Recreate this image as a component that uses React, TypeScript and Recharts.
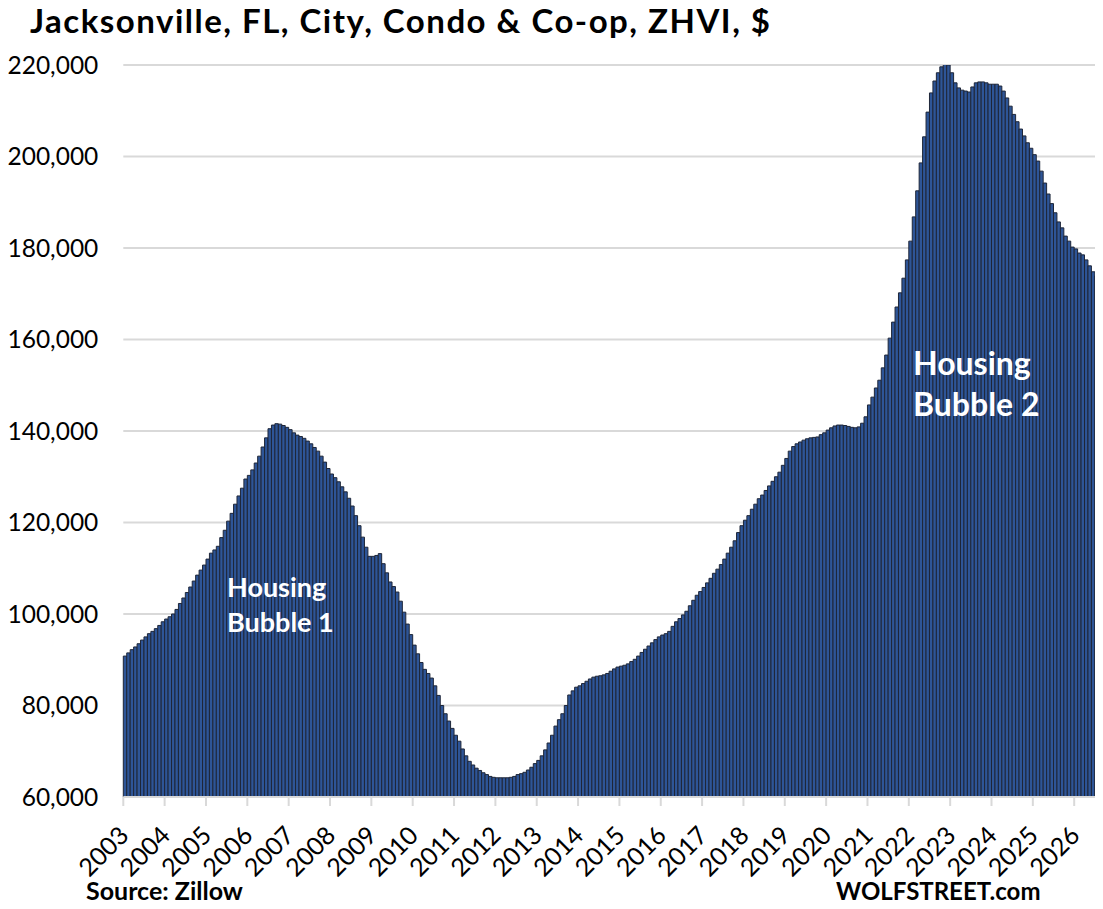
import React from "react";
import { BarChart, Bar, XAxis, YAxis, CartesianGrid } from "recharts";

// Jacksonville condo & co-op ZHVI, monthly, in $ thousands
const years = [
  2003, 2004, 2005, 2006, 2007, 2008, 2009, 2010, 2011, 2012, 2013, 2014,
  2015, 2016, 2017, 2018, 2019, 2020, 2021, 2022, 2023, 2024, 2025, 2026,
];
const y2003 = [90.8, 91.5, 92.2, 92.8, 93.5, 94.3, 95.0, 95.7, 96.2, 96.8, 97.5, 98.3];
const y2004 = [98.9, 99.4, 100.0, 101.0, 102.3, 103.5, 104.7, 105.9, 107.2, 108.5, 109.6, 110.7];
const y2005 = [112.0, 113.3, 114.0, 114.8, 116.7, 118.3, 120.3, 122.0, 124.0, 125.8, 127.5, 129.5];
const y2006 = [130.3, 131.5, 133.0, 134.5, 136.5, 138.5, 140.5, 141.3, 141.6, 141.5, 141.2, 140.8];
const y2007 = [140.3, 139.6, 139.1, 138.8, 138.4, 137.8, 137.2, 136.4, 135.6, 134.5, 133.2, 131.8];
const y2008 = [130.6, 129.8, 128.9, 127.8, 126.7, 125.3, 123.6, 121.5, 119.3, 116.8, 114.6, 112.6];
const y2009 = [112.6, 112.8, 113.2, 111.0, 109.0, 107.0, 106.0, 104.8, 102.8, 100.4, 97.8, 95.5];
const y2010 = [93.2, 91.3, 89.4, 87.9, 87.0, 86.0, 84.3, 82.2, 80.0, 78.2, 76.6, 75.0];
const y2011 = [73.5, 72.2, 70.5, 69.0, 67.8, 67.0, 66.3, 65.8, 65.3, 64.9, 64.5, 64.3];
const y2012 = [64.2, 64.2, 64.2, 64.2, 64.3, 64.5, 64.9, 65.1, 65.4, 65.9, 66.5, 67.3];
const y2013 = [68.0, 69.0, 70.3, 71.8, 73.5, 75.5, 76.9, 78.2, 80.0, 82.3, 83.2, 84.0];
const y2014 = [84.3, 84.8, 85.3, 85.8, 86.2, 86.4, 86.5, 86.7, 87.0, 87.5, 88.0, 88.4];
const y2015 = [88.6, 88.8, 89.1, 89.6, 90.1, 90.8, 91.6, 92.3, 93.0, 93.7, 94.4, 95.0];
const y2016 = [95.4, 95.7, 96.2, 97.3, 98.3, 99.0, 99.8, 100.6, 101.8, 103.0, 104.1, 104.9];
const y2017 = [105.8, 106.8, 107.8, 108.9, 109.8, 110.8, 112.0, 113.3, 114.6, 116.0, 117.8, 119.3];
const y2018 = [120.5, 121.5, 122.9, 124.0, 125.2, 126.0, 127.0, 128.0, 129.0, 130.0, 131.0, 132.5];
const y2019 = [134.0, 135.6, 136.6, 137.2, 137.6, 138.0, 138.3, 138.5, 138.6, 138.7, 139.2, 139.6];
const y2020 = [140.2, 140.7, 141.1, 141.3, 141.3, 141.2, 141.0, 140.8, 140.7, 140.9, 141.7, 143.1];
const y2021 = [145.7, 147.4, 149.4, 151.1, 153.8, 156.6, 160.3, 163.8, 167.1, 170.2, 173.4, 177.4];
const y2022 = [181.5, 186.8, 192.5, 198.6, 204.3, 209.7, 213.9, 216.5, 218.3, 219.6, 220.2, 220.0];
const y2023 = [218.3, 216.1, 215.0, 214.5, 214.3, 214.1, 215.2, 216.1, 216.3, 216.3, 216.1, 215.8];
const y2024 = [215.8, 215.8, 215.4, 214.3, 212.8, 211.0, 209.2, 207.6, 206.0, 204.5, 203.0, 201.8];
const y2025 = [200.4, 199.0, 196.8, 194.2, 191.8, 189.7, 187.7, 185.7, 184.4, 182.6, 181.5, 180.2];
const y2026 = [179.8, 178.9, 178.5, 177.4, 176.1, 174.8, 173.9];

const yearValues = [
  y2003, y2004, y2005, y2006, y2007, y2008, y2009, y2010, y2011, y2012, y2013, y2014,
  y2015, y2016, y2017, y2018, y2019, y2020, y2021, y2022, y2023, y2024, y2025, y2026,
];

const yTicks = [60000, 80000, 100000, 120000, 140000, 160000, 180000, 200000, 220000];

const data = years.flatMap((yr, k) =>
  yearValues[k].map((v, m) => ({
    month: `${yr}-${String(m + 1).padStart(2, "0")}`,
    zhvi: v * 1000,
  }))
);

// layout
const W = 1095;
const H = 901;
const MARGIN = { top: 57, right: 4.7, left: 0, bottom: 0 };
const Y_AXIS_W = 115.3;
const X_AXIS_H = 112;
const PLOT_W = W - MARGIN.left - MARGIN.right - Y_AXIS_W;
const AXIS_Y = H - MARGIN.bottom - X_AXIS_H;
const BAND = PLOT_W / data.length;
const FONT = "Lato, 'Open Sans', sans-serif";
const GRID = "#d9d9d9";

function YearTick(props: any) {
  const { x, payload } = props;
  const left = x - BAND / 2;
  const ax = left + 7;
  const ay = AXIS_Y + 40;
  return (
    <g>
      <line x1={left} x2={left} y1={AXIS_Y} y2={AXIS_Y + 9} stroke={GRID} strokeWidth={2} />
      <text
        x={ax}
        y={ay}
        transform={`rotate(-45, ${ax}, ${ay})`}
        textAnchor="end"
        fontSize={25}
        fontFamily={FONT}
        fill="#000"
      >
        {String(payload.value).slice(0, 4)}
      </text>
    </g>
  );
}

export default function App() {
  return (
    <div style={{ position: "relative", width: W, height: H }}>
      <BarChart width={W} height={H} data={data} margin={MARGIN} barCategoryGap={0} barGap={0}>
        <CartesianGrid horizontal vertical={false} stroke={GRID} strokeWidth={2} />
        <XAxis
          dataKey="month"
          height={X_AXIS_H}
          interval={11}
          axisLine={{ stroke: GRID, strokeWidth: 2 }}
          tickLine={false}
          tick={<YearTick />}
        />
        <YAxis
          width={Y_AXIS_W}
          domain={[60000, 220000]}
          allowDataOverflow
          ticks={yTicks}
          axisLine={false}
          tickLine={false}
          tickSize={0}
          tickMargin={25}
          tickFormatter={(v) => Number(v).toLocaleString("en-US")}
          tick={{ fontSize: 24.5, fontFamily: FONT, fill: "#000" }}
        />
        <Bar
          dataKey="zhvi"
          fill="#2e5597"
          stroke="#1e2638"
          strokeWidth={1}
          barSize={BAND - 0.005}
          isAnimationActive={false}
        />
      </BarChart>
      {/* text overlay in page coordinates */}
      <svg
        width={1103}
        height={909}
        style={{ position: "absolute", left: -8, top: -8, pointerEvents: "none" }}
        fontFamily={FONT}
        fontWeight={700}
      >
        <text x={30} y={33} fontSize={33} textLength={740} lengthAdjust="spacing" fill="#000">
          Jacksonville, FL, City, Condo &amp; Co-op, ZHVI, $
        </text>
        <text x={227} y={597} fontSize={27} fill="#fff">Housing</text>
        <text x={227} y={632} fontSize={27} fill="#fff">Bubble 1</text>
        <text x={913} y={375} fontSize={32} fill="#fff">Housing</text>
        <text x={913} y={416} fontSize={32} fill="#fff">Bubble 2</text>
        <text x={86} y={900} fontSize={25} fill="#000">Source: Zillow</text>
        <text x={836} y={900} fontSize={24} fill="#000">WOLFSTREET.com</text>
      </svg>
    </div>
  );
}
